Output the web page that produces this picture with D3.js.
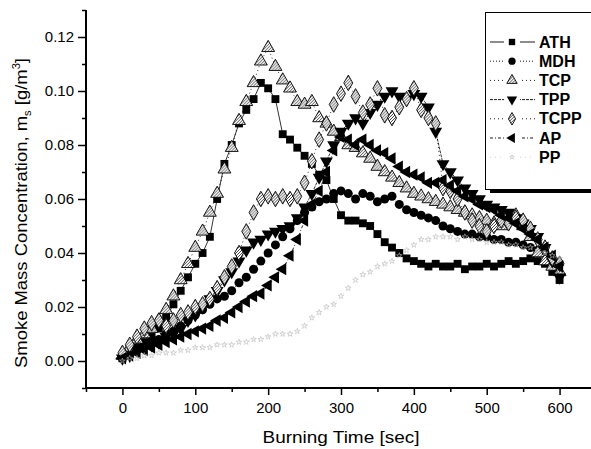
<!DOCTYPE html>
<html>
<head>
<meta charset="utf-8">
<script src="https://cdn.jsdelivr.net/npm/d3@7"></script>
<style>
 body{margin:0;background:#fff}
 text{font-family:"Liberation Sans",Arial,sans-serif}
</style>
</head>
<body>
<div id="chartDiv"></div>
<script>
//---data---
var Times=[0,10,20,30,40,50,60,70,80,90,100,110,120,130,140,150,160,170,180,190,200,210,220,230,240,250,260,270,280,290,300,310,320,330,340,350,360,370,380,390,400,410,420,430,440,450,460,470,480,490,500,510,520,530,540,550,560,570,580,590,600]
var ATH=[0.001,0.003,0.005,0.007,0.009,0.012,0.016,0.021,0.026,0.031,0.036,0.040,0.046,0.060,0.073,0.080,0.088,0.093,0.097,0.103,0.101,0.097,0.084,0.082,0.079,0.076,0.073,0.069,0.067,0.060,0.054,0.052,0.052,0.051,0.050,0.047,0.044,0.042,0.040,0.038,0.037,0.036,0.035,0.036,0.035,0.035,0.036,0.034,0.035,0.035,0.036,0.035,0.036,0.037,0.036,0.037,0.038,0.037,0.036,0.033,0.030]
var MDH=[0.001,0.002,0.004,0.006,0.007,0.008,0.010,0.011,0.013,0.015,0.017,0.019,0.021,0.023,0.024,0.026,0.029,0.031,0.034,0.037,0.040,0.043,0.046,0.049,0.052,0.055,0.057,0.059,0.060,0.062,0.063,0.062,0.060,0.062,0.061,0.059,0.060,0.061,0.058,0.056,0.055,0.054,0.053,0.052,0.050,0.049,0.048,0.047,0.047,0.046,0.046,0.045,0.045,0.044,0.044,0.043,0.042,0.041,0.040,0.038,0.036]
var TCP=[0.002,0.005,0.008,0.010,0.012,0.015,0.019,0.024,0.030,0.036,0.042,0.048,0.055,0.062,0.071,0.079,0.089,0.096,0.103,0.111,0.116,0.109,0.104,0.101,0.096,0.095,0.096,0.090,0.088,0.085,0.083,0.080,0.079,0.077,0.075,0.072,0.070,0.068,0.066,0.064,0.062,0.061,0.060,0.059,0.058,0.057,0.056,0.055,0.054,0.053,0.052,0.051,0.050,0.052,0.054,0.050,0.046,0.040,0.037,0.035,0.033]
var TPP=[0.001,0.002,0.004,0.005,0.006,0.007,0.009,0.010,0.012,0.015,0.017,0.020,0.023,0.026,0.030,0.033,0.037,0.041,0.044,0.045,0.047,0.048,0.049,0.050,0.053,0.057,0.062,0.068,0.074,0.080,0.085,0.088,0.090,0.088,0.092,0.095,0.098,0.100,0.098,0.097,0.099,0.098,0.094,0.085,0.073,0.070,0.067,0.064,0.062,0.060,0.058,0.057,0.056,0.055,0.053,0.051,0.049,0.046,0.042,0.037,0.031]
var TCPP=[0.003,0.006,0.009,0.012,0.014,0.015,0.013,0.015,0.017,0.018,0.020,0.021,0.023,0.027,0.031,0.035,0.040,0.048,0.055,0.060,0.061,0.060,0.061,0.060,0.061,0.066,0.074,0.082,0.088,0.095,0.099,0.103,0.098,0.092,0.095,0.101,0.091,0.090,0.094,0.097,0.101,0.093,0.090,0.088,0.064,0.063,0.060,0.055,0.052,0.050,0.048,0.050,0.052,0.051,0.053,0.052,0.049,0.045,0.042,0.038,0.036]
var AP=[0.001,0.002,0.003,0.004,0.005,0.006,0.007,0.008,0.009,0.010,0.011,0.012,0.013,0.015,0.016,0.018,0.020,0.022,0.024,0.025,0.028,0.031,0.034,0.039,0.045,0.052,0.058,0.063,0.070,0.078,0.083,0.082,0.080,0.082,0.080,0.078,0.077,0.075,0.072,0.070,0.069,0.068,0.066,0.066,0.067,0.065,0.063,0.061,0.060,0.058,0.057,0.056,0.054,0.053,0.051,0.049,0.047,0.045,0.042,0.039,0.035]
var PP=[0.000,0.001,0.001,0.002,0.002,0.003,0.003,0.003,0.004,0.004,0.005,0.005,0.005,0.006,0.006,0.006,0.007,0.007,0.008,0.008,0.009,0.010,0.010,0.010,0.011,0.013,0.016,0.018,0.020,0.021,0.024,0.027,0.030,0.032,0.033,0.035,0.036,0.037,0.039,0.041,0.043,0.045,0.045,0.046,0.046,0.046,0.045,0.046,0.045,0.045,0.044,0.044,0.044,0.043,0.043,0.042,0.042,0.041,0.040,0.039,0.038]
var SeriesNames=["ATH","MDH","TCP","TPP","TCPP","AP","PP"]
var SeriesValues=[ATH,MDH,TCP,TPP,TCPP,AP,PP]
var XTicks=[0,100,200,300,400,500,600]
var YTicks=[0.00,0.02,0.04,0.06,0.08,0.10,0.12]

//---styles per series---
var SeriesStyle={
 ATH:{sym:d3.symbolSquare,size:62,fill:"#000",stroke:"none",dash:null,rot:0},
 MDH:{sym:d3.symbolCircle,size:64,fill:"#000",stroke:"none",dash:"1,2",rot:0},
 TCP:{sym:d3.symbolTriangle,size:72,fill:"url(#hatch)",stroke:"#000",dash:"1,3",rot:0},
 TPP:{sym:d3.symbolTriangle,size:72,fill:"#000",stroke:"none",dash:"3,1",rot:180},
 TCPP:{sym:d3.symbolDiamond,size:70,fill:"url(#hatch)",stroke:"#000",dash:"1,3",rot:0},
 AP:{sym:d3.symbolTriangle,size:66,fill:"#000",stroke:"none",dash:"3,2,1,2",rot:-90},
 PP:{sym:d3.symbolStar,size:10,fill:"none",stroke:"#bbb",dash:"1,4",rot:0}
}

var W=591,H=449
var ChartSVG=d3.select("#chartDiv").append("svg")
 .attr("width",W).attr("height",H)
 .attr("viewBox","0 0 "+W+" "+H)

var pat=ChartSVG.append("defs").append("pattern")
 .attr("id","hatch")
 .attr("patternUnits","userSpaceOnUse")
 .attr("width",3).attr("height",3)
pat.append("rect").attr("width",3).attr("height",3).attr("fill","#fff")
pat.append("path").attr("d","M-1,1 L1,-1 M0,3 L3,0 M2,4 L4,2")
 .attr("stroke","#333").attr("stroke-width",0.9)

var xScale=d3.scaleLinear().domain([-50,650]).range([86,596])
var yScale=d3.scaleLinear().domain([-0.01,0.13]).range([388,10])

//---series---
var PlotG=ChartSVG.append("g").attr("id","plotG")
SeriesNames.forEach(function(name,k)
{
  var st=SeriesStyle[name]
  var vals=SeriesValues[k]
  var line=d3.line()
   .x(function(d,i){return xScale(Times[i])})
   .y(function(d){return yScale(d)})
  PlotG.append("path")
   .attr("d",line(vals))
   .attr("fill","none")
   .attr("stroke",name=="PP"?"#ccc":"#000")
   .attr("stroke-width",0.8)
   .attr("stroke-dasharray",st.dash)
  var sym=d3.symbol().type(st.sym).size(st.size)
  PlotG.append("g").selectAll("path").data(vals).enter().append("path")
   .attr("d",sym)
   .attr("transform",function(d,i){return "translate("+xScale(Times[i])+","+yScale(d)+") rotate("+st.rot+")"})
   .attr("fill",st.fill)
   .attr("stroke",st.stroke)
   .attr("stroke-width",name=="PP"?0.6:0.9)
})

//---axes---
var xAxis=d3.axisBottom(xScale).tickValues(XTicks).tickSize(7).tickPadding(7).tickFormat(d3.format("d"))
var xMinor=d3.axisBottom(xScale).tickValues([-50,50,150,250,350,450,550,650]).tickSize(4).tickFormat("")
var gx=ChartSVG.append("g").attr("transform","translate(0,388)").call(xAxis)
ChartSVG.append("g").attr("transform","translate(0,388)").call(xMinor)
 .call(function(g){g.select(".domain").remove()})
gx.select(".domain").attr("d","M86,0H596").attr("stroke-width",2)

var yAxis=d3.axisLeft(yScale).tickValues(YTicks).tickSize(8).tickPadding(4).tickFormat(d3.format(".2f"))
var yMinor=d3.axisLeft(yScale).tickValues([-0.01,0.01,0.03,0.05,0.07,0.09,0.11,0.13]).tickSize(4).tickFormat("")
var gy=ChartSVG.append("g").attr("transform","translate(86,0)").call(yAxis)
ChartSVG.append("g").attr("transform","translate(86,0)").call(yMinor)
 .call(function(g){g.select(".domain").remove()})
gy.select(".domain").attr("d","M0,10V388").attr("stroke-width",2)

ChartSVG.selectAll(".tick line").attr("stroke-width",1.5)
ChartSVG.selectAll(".tick text").attr("font-size",15).attr("fill","#000")
 .style("font-family","'Liberation Sans',Arial,sans-serif")

//---titles---
ChartSVG.append("text")
 .attr("x",341).attr("y",443)
 .attr("text-anchor","middle")
 .attr("font-size",16.5)
 .attr("textLength",157).attr("lengthAdjust","spacingAndGlyphs")
 .text("Burning Time [sec]")

var yt=ChartSVG.append("text")
 .attr("transform","translate(27,213) rotate(-90)")
 .attr("text-anchor","middle")
 .attr("font-size",16.5)
 .attr("textLength",310).attr("lengthAdjust","spacingAndGlyphs")
yt.append("tspan").text("Smoke Mass Concentration, m")
yt.append("tspan").attr("font-size",10).attr("dy",4).text("s")
yt.append("tspan").attr("dy",-4).text(" [g/m")
yt.append("tspan").attr("font-size",10).attr("dy",-7).text("3")
yt.append("tspan").attr("dy",7).text("]")

//---legend---
var LegendG=ChartSVG.append("g").attr("id","legendG")
LegendG.append("rect")
 .attr("x",490).attr("y",16).attr("width",110).attr("height",177)
 .attr("fill","#000")
LegendG.append("rect")
 .attr("x",485.5).attr("y",12.5).attr("width",110).attr("height",177)
 .attr("fill","#fff").attr("stroke","#000").attr("stroke-width",1)
SeriesNames.forEach(function(name,k)
{
  var st=SeriesStyle[name]
  var cy=42+k*19.2
  LegendG.append("line")
   .attr("x1",490).attr("x2",535).attr("y1",cy).attr("y2",cy)
   .attr("stroke",name=="PP"?"#ccc":"#000")
   .attr("stroke-width",0.9)
   .attr("stroke-dasharray",st.dash)
  LegendG.append("rect")
   .attr("x",504).attr("y",cy-5).attr("width",16).attr("height",10)
   .attr("fill","#fff")
  LegendG.append("path")
   .attr("d",d3.symbol().type(st.sym).size(st.size*0.65))
   .attr("transform","translate(512,"+cy+") rotate("+st.rot+")")
   .attr("fill",st.fill)
   .attr("stroke",st.stroke)
   .attr("stroke-width",name=="PP"?0.6:0.9)
  LegendG.append("text")
   .attr("x",539).attr("y",cy+5.5)
   .attr("font-size",16).attr("font-weight","bold")
   .text(name)
})
</script>
</body>
</html>
